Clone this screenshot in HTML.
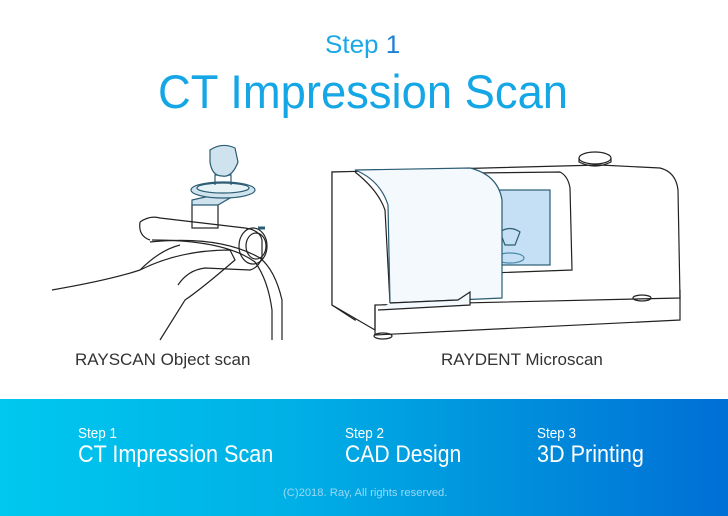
<!DOCTYPE html>
<html><head><meta charset="utf-8"><style>
body{margin:0;width:728px;height:516px;overflow:hidden;background:#fff;font-family:"Liberation Sans",sans-serif;position:relative}
.t{position:absolute;white-space:nowrap;transform-origin:0 0}
</style></head><body>
<div class="t" style="left:325px;top:31px;font-size:25px;color:#1aa9e6;transform:scaleX(1.04)">Step <span style="color:#1a7fd6">1</span></div>
<div class="t" style="left:158px;top:64px;font-size:47px;color:#15a6e6;transform:scaleX(0.965)">CT Impression Scan</div>

<svg width="728" height="400" style="position:absolute;left:0;top:0" fill="none" stroke="#222" stroke-width="1.2">
<!-- arm -->
<path d="M52 290 Q110 280 140 270 Q180 250 230 250 L235 260 Q200 290 185 300 L160 340"/>
<path d="M140 270 Q160 250 180 245"/>
<path d="M140 222 Q150 215 160 218 L245 228 Q260 230 262 240 L262 258 Q258 268 250 270 L205 268 Q188 270 178 285"/>
<path d="M140 222 Q138 236 150 240"/>
<path d="M150 242 Q220 235 260 258 Q275 270 282 300 L282 340"/>
<path d="M152 240 Q225 240 255 262 Q268 280 272 310 L272 340"/>
<ellipse cx="253" cy="246" rx="14" ry="18"/>
<ellipse cx="256" cy="246" rx="10" ry="13"/>
<rect x="192" y="203" width="26" height="25"/>
<path d="M192 200 L210 196 L230 198 L218 205 L192 205Z" fill="#cfe3ee" stroke="#2b5c73"/>
<ellipse cx="223" cy="190" rx="32" ry="8" fill="#cfe3ee" stroke="#2b5c73"/>
<ellipse cx="223" cy="188" rx="26" ry="5" fill="#e8f3f8" stroke="#2b5c73"/>
<path d="M215 185 L215 175 L231 175 L231 185" stroke="#2b5c73"/>
<path d="M210 150 Q222 142 235 148 L238 162 Q232 178 222 176 Q212 176 210 162Z" fill="#cfe3ee" stroke="#2b5c73"/>
<path d="M258 228 L265 228" stroke="#2b5c73" stroke-width="3"/>
<!-- machine -->
<path d="M332 172 L355 172 L355 320 L332 305Z" fill="#fff"/>
<path d="M332 172 L600 165 L660 168 Q676 172 678 190 L680 298 L375 305 L375 330 L332 305Z" fill="#fff"/>
<path d="M375 305 L375 335 L680 320 L680 290"/>
<path d="M355 172 Q378 190 385 210 L390 303"/>
<ellipse cx="595" cy="158" rx="16" ry="6" fill="#fff"/>
<path d="M579 158 L579 162 Q595 170 611 162 L611 158"/>
<path d="M475 173 L560 172 Q568 176 570 188 L572 270 L490 273Z"/>
<rect x="495" y="190" width="55" height="75" fill="#c5e0f5" stroke="#2b5c73"/>
<path d="M500 232 Q510 225 520 232 L515 245 L505 245Z" stroke="#2b5c73"/>
<ellipse cx="510" cy="258" rx="14" ry="5" stroke="#4a88a8"/>
<path d="M355 170 L470 168 Q498 175 502 200 L502 298 L390 303 L388 205 Q380 180 355 170Z" fill="#f3f9fd" stroke="#2b5c73"/>
<path d="M390 303 L458 300 L470 292 L470 305 L378 310" fill="#f3f9fd"/>
<ellipse cx="383" cy="336" rx="9" ry="3"/>
<ellipse cx="642" cy="298" rx="9" ry="3"/>
</svg>

<div class="t" style="left:75px;top:350px;font-size:17px;color:#333;transform:scaleX(1.0)">RAYSCAN Object scan</div>
<div class="t" style="left:441px;top:350px;font-size:17px;color:#333;transform:scaleX(1.0)">RAYDENT Microscan</div>

<div style="position:absolute;left:0;top:399px;width:728px;height:117px;background:linear-gradient(90deg,#00c8ef,#00b0e6 40%,#0090dc 70%,#006fd6)"></div>
<div class="t" style="left:78px;top:425px;font-size:15px;color:#fff;transform:scaleX(0.9)">Step 1</div>
<div class="t" style="left:78px;top:441px;font-size:24px;color:#fff;transform:scaleX(0.9)">CT Impression Scan</div>
<div class="t" style="left:345px;top:425px;font-size:15px;color:#fff;transform:scaleX(0.9)">Step 2</div>
<div class="t" style="left:345px;top:441px;font-size:24px;color:#fff;transform:scaleX(0.88)">CAD Design</div>
<div class="t" style="left:537px;top:425px;font-size:15px;color:#fff;transform:scaleX(0.9)">Step 3</div>
<div class="t" style="left:537px;top:441px;font-size:24px;color:#fff;transform:scaleX(0.9)">3D Printing</div>
<div class="t" style="left:283px;top:487px;font-size:11px;color:#9ad8f4;transform:scaleX(1.02)">(C)2018. Ray, All rights reserved.</div>
</body></html>
